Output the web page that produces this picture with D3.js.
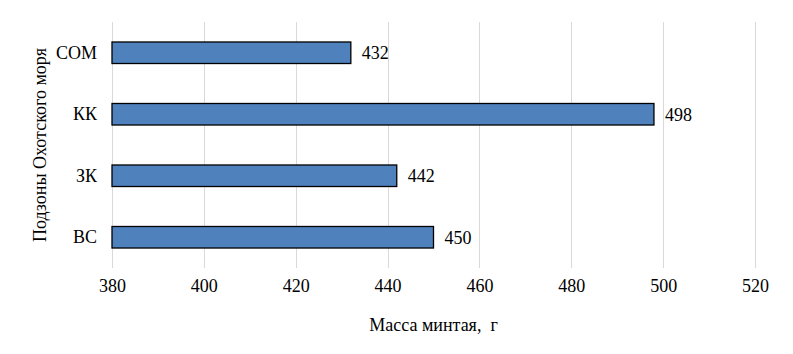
<!DOCTYPE html>
<html>
<head>
<meta charset="utf-8">
<script src="https://cdn.jsdelivr.net/npm/d3@7"></script>
<style>
  body { margin: 0; background: #fff; }
</style>
</head>
<body>
<div id="chart"></div>
<script>
// data
var categories = ["СОМ", "КК", "ЗК", "ВС"];
var values = [432, 498, 442, 450];
var xTicks = [380, 400, 420, 440, 460, 480, 500, 520];

var font = "Liberation Serif";
var fs = 18;

var W = 793, H = 354;
var margin = {top: 22, right: 38, bottom: 86, left: 112};
var width = W - margin.left - margin.right,
    height = H - margin.top - margin.bottom;

var svg = d3.select("#chart")
    .append("svg")
    .attr("width", W)
    .attr("height", H)
    .append("g")
    .attr("transform", "translate(" + margin.left + "," + margin.top + ")");

var x = d3.scaleLinear()
    .domain([380, 520])
    .range([0, width]);

var y = d3.scaleBand()
    .domain(categories)
    .range([0, height])
    .paddingInner(0.65)
    .paddingOuter(0.325);

// gridlines
svg.append("g")
    .selectAll("line")
    .data(xTicks)
    .enter()
    .append("line")
    .attr("x1", function (d) { return Math.round(x(d)) + 0.5; })
    .attr("x2", function (d) { return Math.round(x(d)) + 0.5; })
    .attr("y1", 0)
    .attr("y2", height)
    .style("stroke", "#d9d9d9")
    .style("stroke-width", 1);

// x tick labels
var xAxis = svg.append("g")
    .attr("transform", "translate(0," + height + ")")
    .call(d3.axisBottom(x).tickValues(xTicks).tickSize(0).tickPadding(11));
xAxis.select(".domain").remove();
xAxis.attr("font-family", font).attr("font-size", fs);

// y labels
var yAxis = svg.append("g")
    .call(d3.axisLeft(y).tickSize(0).tickPadding(15));
yAxis.select(".domain").remove();
yAxis.attr("font-family", font).attr("font-size", fs);

// bars
svg.selectAll(".bar")
    .data(values)
    .enter()
    .append("rect")
    .attr("class", "bar")
    .attr("x", x(380))
    .attr("y", function (d, i) { return y(categories[i]); })
    .attr("width", function (d) { return x(d) - x(380); })
    .attr("height", y.bandwidth())
    .style("fill", "#4f81bd")
    .style("stroke", "#000")
    .style("stroke-width", 1.3);

// value labels
svg.selectAll(".val")
    .data(values)
    .enter()
    .append("text")
    .attr("class", "val")
    .attr("x", function (d) { return x(d) + 11; })
    .attr("y", function (d, i) { return y(categories[i]) + y.bandwidth() / 2; })
    .attr("dy", "0.35em")
    .attr("font-family", font)
    .attr("font-size", fs)
    .text(function (d) { return d; });

// axis titles
svg.append("text")
    .attr("x", width / 2)
    .attr("y", height + 63)
    .attr("text-anchor", "middle")
    .attr("font-family", font)
    .attr("font-size", fs)
    .style("white-space", "pre")
    .text("Масса минтая,  г");

svg.append("text")
    .attr("transform", "translate(" + (-66) + "," + (height / 2) + ") rotate(-90)")
    .attr("text-anchor", "middle")
    .attr("font-family", font)
    .attr("font-size", fs)
    .text("Подзоны Охотского моря");
</script>
</body>
</html>
